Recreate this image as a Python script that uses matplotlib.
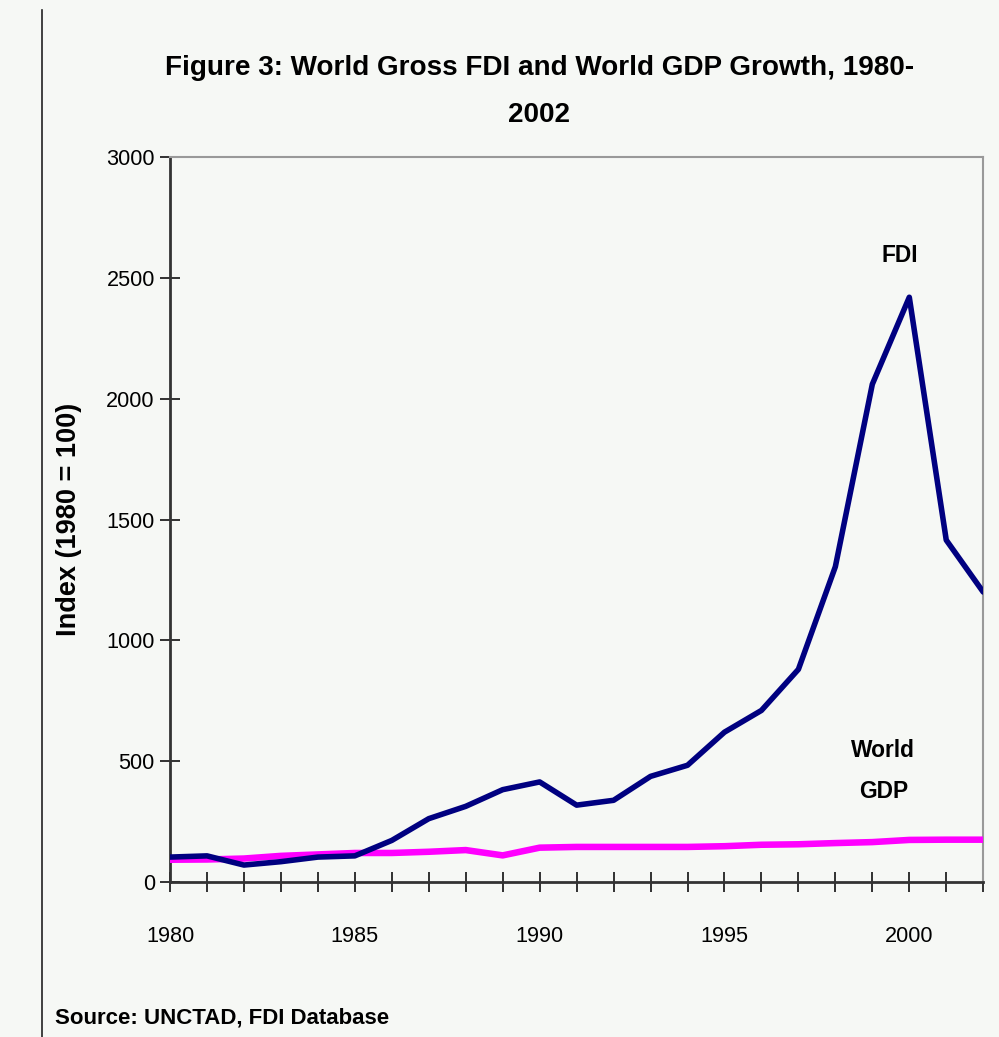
import matplotlib
matplotlib.use("Agg")
import matplotlib.pyplot as plt
from matplotlib import font_manager

# data (index, 1980 = 100)
years = list(range(1980, 2003))
fdi = [103, 108, 70, 84, 103, 108, 172, 262, 313, 382, 414, 318, 338, 437, 483,
       620, 710, 880, 1305, 2060, 2420, 1415, 1200]
gdp = [92, 93, 97, 108, 114, 120, 120, 125, 132, 110, 142, 145, 145, 145, 145,
       148, 154, 156, 161, 165, 174, 175, 175]
year_labels = [1980, 1985, 1990, 1995, 2000]

# the original uses Arial Narrow; fall back to Liberation Sans, a bit smaller
names = {f.name for f in font_manager.fontManager.ttflist}
if 'Liberation Sans Narrow' in names:
    fam = ['Liberation Sans Narrow', 'DejaVu Sans']
    k = 1.0
else:
    fam = ['Liberation Sans', 'DejaVu Sans']
    k = 0.82

bg = '#f6f8f5'
fig = plt.figure(figsize=(9.99, 10.37), dpi=100, facecolor=bg)
ax = fig.add_axes([0.1702, 0.1495, 0.814, 0.699], facecolor=bg)

ax.plot(years, gdp, color='#ff00ff', lw=4.7, solid_joinstyle='round', solid_capstyle='round', zorder=3)
ax.plot(years, fdi, color='#000080', lw=4.0, solid_joinstyle='round', solid_capstyle='round', zorder=4)

ax.set_xlim(1980, 2002)
ax.set_ylim(0, 3000)
ax.set_yticks(range(0, 3001, 500))
ax.set_xticks(years)
ax.set_xticklabels([str(y) if y in year_labels else '' for y in years])

for s in ['top', 'right']:
    ax.spines[s].set_color('#999999')
    ax.spines[s].set_linewidth(1.5)
for s in ['left', 'bottom']:
    ax.spines[s].set_color('#333333')
    ax.spines[s].set_linewidth(2)

ax.tick_params(axis='both', direction='inout', length=14, width=1.3, color='#222222')
ax.tick_params(axis='x', pad=25)
ax.tick_params(axis='y', pad=4)
for lab in ax.get_xticklabels() + ax.get_yticklabels():
    lab.set_family(fam)
    lab.set_fontsize(19 * k)

ax.set_ylabel('Index (1980 = 100)', fontsize=19.5, fontweight='bold',
              family=['Liberation Sans', 'DejaVu Sans'])
ax.yaxis.set_label_coords(-0.108, 0.5)

ax.text(1999.73, 2594, 'FDI', fontsize=20 * k, fontweight='bold', family=fam, ha='center', va='center')
ax.text(1999.3, 459, 'World\nGDP', fontsize=20 * k, fontweight='bold', family=fam,
        ha='center', va='center', linespacing=2.0)

fig.text(0.54, 0.912, 'Figure 3: World Gross FDI and World GDP Growth, 1980-\n2002',
         fontsize=24.5 * k, fontweight='bold', family=fam, ha='center', va='center', linespacing=2.05)
fig.text(0.055, 0.018, 'Source: UNCTAD, FDI Database', fontsize=19.5 * k, fontweight='bold',
         family=fam, ha='left', va='center')

# frame line on the left edge
fig.add_artist(plt.Line2D([0.042, 0.042], [0.0, 0.99], color='#222222', lw=1.2,
                          transform=fig.transFigure))

fig.savefig('out.png', dpi=100, facecolor=bg)
